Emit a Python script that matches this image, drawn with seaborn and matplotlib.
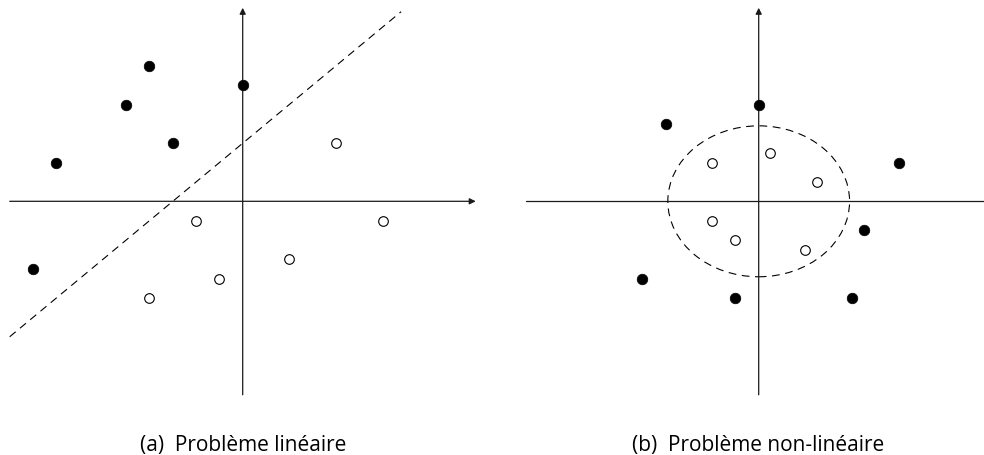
import numpy as np
import matplotlib
matplotlib.use("Agg")
import matplotlib.pyplot as plt
from matplotlib.patches import Ellipse
import seaborn as sns

sns.set_style("white")
plt.rcParams["font.family"] = ["Open Sans", "DejaVu Sans"]

# --- panel (a): linearly separable points ---
lin_pos_x = [-8, -4, -5, -3, 0, -9]
lin_pos_y = [2, 7, 5, 3, 6, -3.5]
lin_neg_x = [4, 6, -2, 2, -1, -4]
lin_neg_y = [3, -1, -1, -3, -4, -5]
sep_x = [-10, 6.8]          # separating line y = x + 3
sep_slope, sep_icpt = 1.0, 3.0

# --- panel (b): non-linear problem ---
nl_pos_x = [0, -4, 6, 4.5, -5, -1, 4]
nl_pos_y = [5, 4, 2, -1.5, -4, -5, -5]
nl_neg_x = [-2, 0.5, 2.5, -2, -1, 2]
nl_neg_y = [2, 2.5, 1, -1, -2, -2.5]
circle_r = 3.9

captions = ["(a)  Problème linéaire", "(b)  Problème non-linéaire"]

W, H = 984, 456
fig = plt.figure(figsize=(W / 100, H / 100), dpi=100)

# pixel geometry of the drawing (x unit ~23.3 px, y unit ~19.35 px)
ux, uy = 23.3, 19.35
origin_y = 202.3
top_px, bot_px = 0, 400


def make_axes(left_px, right_px, origin_x):
    ax = fig.add_axes([left_px / W, (H - bot_px) / H,
                       (right_px - left_px) / W, (bot_px - top_px) / H])
    ax.set_xlim((left_px - origin_x) / ux, (right_px - origin_x) / ux)
    ax.set_ylim((origin_y - bot_px) / uy, (origin_y - top_px) / uy)
    ax.axis("off")
    return ax


ax_lw = 0.9
axis_col = "#1a1a1a"
arrow = dict(arrowstyle="-|>", lw=ax_lw, color=axis_col,
             mutation_scale=9, shrinkA=0, shrinkB=0)


def draw_points(ax, px, py, nx, ny):
    sns.scatterplot(x=px, y=py, color="black", s=58, edgecolor="black",
                    linewidth=0.5, ax=ax, zorder=5)
    sns.scatterplot(x=nx, y=ny, facecolor="white", s=48, edgecolor="black",
                    linewidth=0.8, ax=ax, zorder=5)


# (a)
ax1 = make_axes(0, 492, 242.7)
ax1.annotate("", xy=(10, 0), xytext=(-10, 0), arrowprops=arrow)
ax1.annotate("", xy=(0, 10), xytext=(0, -10), arrowprops=arrow)
sx = np.array(sep_x)
ax1.plot(sx, sep_slope * sx + sep_icpt, color="black", lw=0.8,
         dashes=(7, 5))
draw_points(ax1, lin_pos_x, lin_pos_y, lin_neg_x, lin_neg_y)

# (b)
ax2 = make_axes(492, 984, 758.7)
ax2.plot([-10, 10], [0, 0], color=axis_col, lw=ax_lw)
ax2.annotate("", xy=(0, 10), xytext=(0, -10), arrowprops=arrow)
ax2.add_patch(Ellipse((0, 0), 2 * circle_r, 2 * circle_r, fill=False,
                      edgecolor="black", lw=0.8, linestyle=(0, (7, 5))))
draw_points(ax2, nl_pos_x, nl_pos_y, nl_neg_x, nl_neg_y)

for cx, txt in zip([243, 758], captions):
    fig.text(cx / W, (H - 451) / H, txt, ha="center", va="baseline",
             fontsize=15, color="black")

fig.savefig("out.png", dpi=100, facecolor="white")
